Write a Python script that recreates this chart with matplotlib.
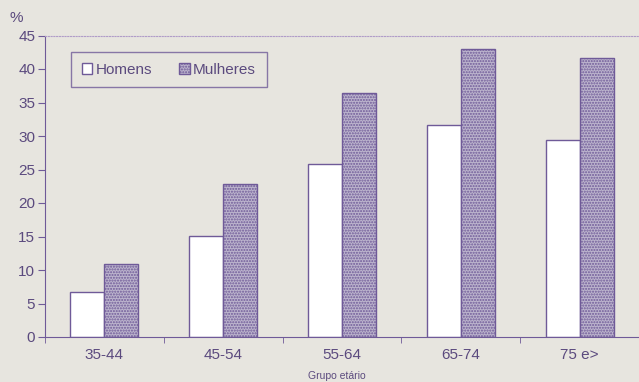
import numpy as np
import matplotlib.pyplot as plt

grupos = ['35-44', '45-54', '55-64', '65-74', '75 e>']
homens = [6.7, 15.1, 25.8, 31.7, 29.4]
mulheres = [10.9, 22.8, 36.4, 43.0, 41.6]

bg = '#e7e5df'
roxo = '#6f5a98'
texto = '#5b4a7e'

plt.rcParams['font.family'] = ['Liberation Sans', 'DejaVu Sans']
plt.rcParams['hatch.color'] = '#9d90b8'

fig = plt.figure(figsize=(6.39, 3.82), dpi=100, facecolor=bg)
ax = fig.add_axes([45/639, 45/382, 594/639, 301.5/382])
ax.set_facecolor(bg)

x = np.arange(len(grupos))
w = 0.286
ax.bar(x - w/2, homens, w, color='white', edgecolor=roxo, linewidth=1, label='Homens')
ax.bar(x + w/2, mulheres, w, color='#bcb4cd', edgecolor=roxo, linewidth=1,
       hatch='......', label='Mulheres')

ax.set_xlim(-0.5, 4.43)
ax.set_ylim(0, 45)
ax.set_yticks(np.arange(0, 46, 5))
ax.set_xticks(x)
ax.set_xticklabels(grupos)
ax.set_xticks(np.arange(-0.5, 4.6, 1), minor=True)
ax.tick_params(axis='x', which='major', length=0, pad=8, labelsize=11, labelcolor=texto)
ax.tick_params(axis='x', which='minor', length=4, color=roxo, direction='out')
ax.tick_params(axis='y', length=5, color=roxo, labelsize=11, labelcolor=texto, pad=2)

ax.spines['right'].set_visible(False)
ax.spines['top'].set_linestyle((0, (1, 1.5)))
ax.spines['top'].set_color('#b09cc8')
ax.spines['top'].set_linewidth(0.8)
ax.spines['left'].set_color(roxo)
ax.spines['bottom'].set_color(roxo)

fig.text(10/639, 1 - 18/382, '%', fontsize=11, color=texto, va='center', ha='left')
fig.text(337/639, 1 - 376/382, 'Grupo etário', fontsize=7.5, color=texto, ha='center', va='center')

leg = ax.legend(loc='upper left', bbox_to_anchor=(26/594, 1 - 16.5/301.5), ncol=2,
                frameon=True, fancybox=False, fontsize=11, handlelength=0.7, handleheight=0.7,
                handletextpad=0.2, columnspacing=1.8, borderpad=0.7, borderaxespad=0,
                labelcolor=texto)
leg.get_frame().set_edgecolor(roxo)
leg.get_frame().set_facecolor(bg)
leg.get_frame().set_linewidth(1)

plt.savefig('out.png', dpi=100, facecolor=bg)
